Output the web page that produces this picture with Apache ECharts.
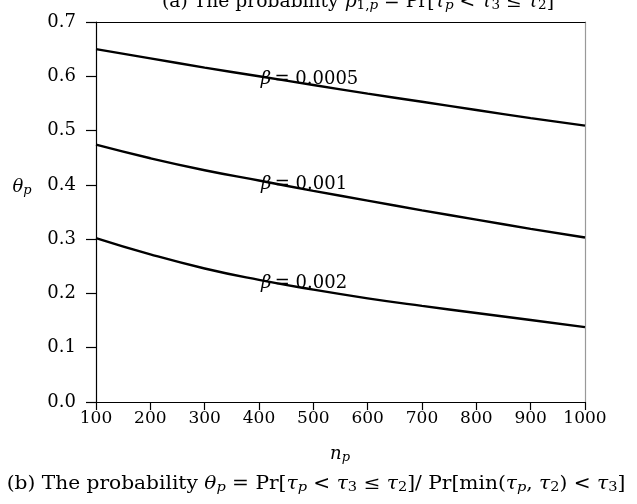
<!DOCTYPE html>
<html><head><meta charset="utf-8">
<script src="https://cdn.jsdelivr.net/npm/echarts@6/dist/echarts.min.js"></script>
<style>html,body{margin:0;padding:0;background:#fff}#c{width:637px;height:504px}</style>
</head><body><div id="c"></div>
<script>
var nValues = [100, 200, 300, 400, 500, 600, 700, 800, 900, 1000];
var beta0005 = [0.650, 0.633, 0.616, 0.600, 0.584, 0.568, 0.553, 0.538, 0.523, 0.509];
var beta001  = [0.474, 0.449, 0.427, 0.408, 0.389, 0.371, 0.353, 0.336, 0.319, 0.303];
var beta002  = [0.302, 0.272, 0.246, 0.225, 0.207, 0.191, 0.177, 0.164, 0.151, 0.138];
var xTicks = [100, 200, 300, 400, 500, 600, 700, 800, 900, 1000];
var yTicks = ['0.0','0.1','0.2','0.3','0.4','0.5','0.6','0.7'];
var seriesNames = ['0.0005', '0.001', '0.002'];

var F = 'DejaVu Serif';
var chart = echarts.init(document.getElementById('c'), null, {renderer: 'canvas'});
function pairs(arr){ return nValues.map(function(n,i){ return [n, arr[i]]; }); }
var base = {fontFamily: F, fontSize: 18, color: '#000'};
var it = {fontFamily: F, fontSize: 18, fontStyle: 'italic', color: '#000'};
var sub = {fontFamily: F, fontSize: 13, fontStyle: 'italic', color: '#000', verticalAlign: 'bottom', padding: [8,0,0,0]};
var subr = {fontFamily: F, fontSize: 13, color: '#000', verticalAlign: 'bottom', padding: [8,0,0,0]};
var rich = {b: base, i: it, s: sub, r: subr};

var option = {
  animation: false,
  backgroundColor: '#fff',
  grid: {left: 96, right: 52, top: 22, bottom: 102},
  xAxis: [{
    type: 'value', min: 100, max: 1000, interval: 100, position: 'bottom',
    axisLine: {show: true, lineStyle: {color: '#000', width: 1.2}},
    axisTick: {show: true, length: 8, lineStyle: {color: '#000', width: 1.2}},
    axisLabel: {fontFamily: F, fontSize: 17, color: '#000', margin: 8,
      formatter: function(v){ return xTicks.indexOf(v) >= 0 ? String(v) : ''; }},
    splitLine: {show: false}
  }, {
    type: 'value', min: 100, max: 1000, position: 'top',
    axisLine: {show: true, onZero: false, lineStyle: {color: '#000', width: 1.2}},
    axisTick: {show: false}, axisLabel: {show: false}, splitLine: {show: false}
  }],
  yAxis: [{
    type: 'value', min: 0, max: 0.7, interval: 0.1, position: 'left',
    axisLine: {show: true, lineStyle: {color: '#000', width: 1.2}},
    axisTick: {show: true, length: 10, lineStyle: {color: '#000', width: 1.2}},
    axisLabel: {fontFamily: F, fontSize: 18, color: '#000', margin: 20,
      formatter: function(v){ return yTicks[Math.round(v*10)]; }},
    splitLine: {show: false}
  }, {
    type: 'value', min: 0, max: 0.7, position: 'right',
    axisLine: {show: true, onZero: false, lineStyle: {color: '#999', width: 1.2}},
    axisTick: {show: false}, axisLabel: {show: false}, splitLine: {show: false}
  }],
  series: [beta0005, beta001, beta002].map(function(arr, k){
    return {type: 'line', name: seriesNames[k], data: pairs(arr), smooth: true,
      showSymbol: false, lineStyle: {color: '#000', width: 2.4}, silent: true};
  })
};
chart.setOption(option);

var labelN = [493, 483, 483];
var data = [beta0005, beta001, beta002];
var g = [];
data.forEach(function(arr, k){
  var idx = nValues.indexOf(400), idx2 = nValues.indexOf(500);
  var v = arr[idx] + (arr[idx2]-arr[idx]) * (labelN[k]-400)/100;
  var p = chart.convertToPixel({xAxisIndex: 0, yAxisIndex: 0}, [labelN[k], v]);
  g.push({type: 'text', x: p[0], y: p[1] - 5, style: {
    text: '{i|β} {b|= ' + seriesNames[k] + '}', rich: rich, align: 'center', verticalAlign: 'middle'}});
});
g.push({type: 'text', x: 358, y: 2, scaleX: 1.04, originX: 0, style: {
  text: '{b|(a) The probability }{i|p}{r|1,}{s|p}{b| = Pr[}{i|τ}{s|p}{b| < }{i|τ}{r|3}{b| ≤ }{i|τ}{r|2}{b|]}', rich: rich,
  align: 'center', verticalAlign: 'middle'}});
g.push({type: 'text', x: 22, y: 187, style: {
  text: '{i|θ}{s|p}', rich: rich, align: 'center', verticalAlign: 'middle'}});
g.push({type: 'text', x: 340, y: 454, style: {
  text: '{i|n}{s|p}', rich: rich, align: 'center', verticalAlign: 'middle'}});
g.push({type: 'text', x: 316, y: 484, scaleX: 1.12, originX: 0, style: {
  text: '{b|(b) The probability }{i|θ}{s|p}{b| = Pr[}{i|τ}{s|p}{b| < }{i|τ}{r|3}{b| ≤ }{i|τ}{r|2}{b|]/ Pr[min(}{i|τ}{s|p}{b|, }{i|τ}{r|2}{b|) < }{i|τ}{r|3}{b|]}',
  rich: rich, align: 'center', verticalAlign: 'middle'}});
chart.setOption({graphic: g});
</script></body></html>
